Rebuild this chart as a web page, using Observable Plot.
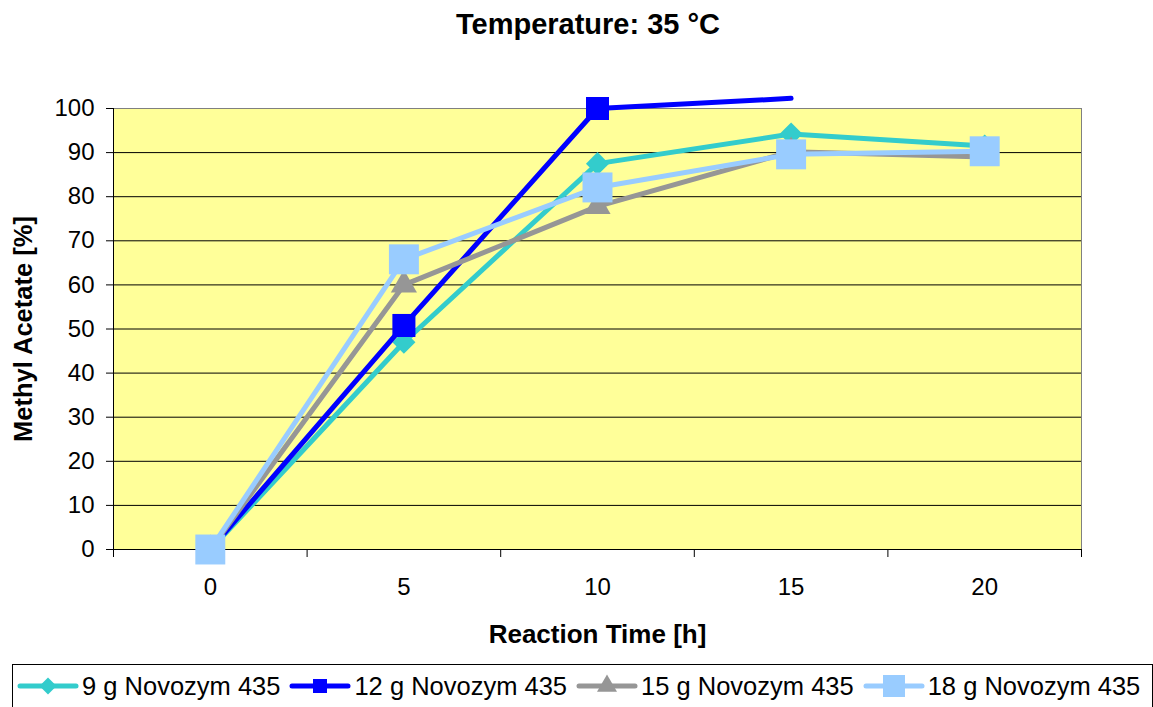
<!DOCTYPE html>
<html><head><meta charset="utf-8">
<script src="https://cdn.jsdelivr.net/npm/d3@7"></script>
<script src="https://cdn.jsdelivr.net/npm/@observablehq/plot@0.6"></script>
<style>
body{margin:0;background:#fff;font-family:"Liberation Sans",Arial,sans-serif;}
#wrap{position:relative;width:1153px;height:707px;overflow:hidden;}
#title{position:absolute;left:23px;top:0;width:1130px;height:48px;line-height:48px;text-align:center;font-weight:bold;font-size:29px;}
#chart{position:absolute;left:0;top:48px;}
#legend{position:absolute;left:12px;top:664px;width:1141px;height:60px;border:1px solid #000;box-sizing:border-box;display:flex;align-items:flex-start;padding-left:4px;padding-top:6px;gap:9px;}
#legend .item{display:flex;align-items:center;height:30px;}
#legend span{font-size:25.5px;margin-left:3px;white-space:nowrap;}
</style></head>
<body><div id="wrap"><div id="title">Temperature: 35 °C</div><div id="chart"></div><div id="legend"></div></div>
<script>
const times = [0, 5, 10, 15, 20];
const seriesNames = ["9 g Novozym 435", "12 g Novozym 435", "15 g Novozym 435", "18 g Novozym 435"];
const values9 = [0, 47, 87.5, 94.2, 91.5];
const values12 = [0, 50.8, 100, 102.3];
const values15 = [0, 60, 77.8, 90.2, 89];
const values18 = [0, 65.8, 82.1, 89.6, 90.3];
const yTicks = [0, 10, 20, 30, 40, 50, 60, 70, 80, 90, 100];
const xLabel = "Reaction Time [h]";
const yLabel = "Methyl Acetate [%]";

const colors = ["#33CCCC", "#0000FF", "#969696", "#99CCFF"];
const symbols = ["diamond2", "square", "triangle", "square"];
const markerR = [10.4, 13, 9.7, 16.9];
const legendSize = [184, 196, 173, 484];
const legendSym = [d3.symbolDiamond2, d3.symbolSquare, d3.symbolTriangle, d3.symbolSquare];

const allValues = [values9, values12, values15, values18];
const series = seriesNames.map((name, i) => ({
  name, color: colors[i], symbol: symbols[i], r: markerR[i],
  rows: allValues[i].map((v, j) => ({x: times[j], y: v}))
}));

const step = times[1] - times[0];
const xDomain = [times[0] - step / 2, times[times.length - 1] + step / 2];
const bounds = times.map(t => t - step / 2).concat([xDomain[1]]);
const yMax = yTicks[yTicks.length - 1];

const marks = [
  Plot.frame({fill: "#FFFF99", stroke: "#808080"}),
  Plot.gridY({ticks: yTicks.filter(t => t > 0 && t < yMax), stroke: "#000", strokeOpacity: 1, strokeWidth: 1}),
  Plot.ruleX([xDomain[0]], {stroke: "#000"}),
  Plot.ruleY([0], {stroke: "#000"}),
  Plot.axisY({ticks: yTicks, tickSize: 7, tickPadding: 12, stroke: "#000", fill: "#000", fontSize: 24, label: null, tickFormat: d => String(d)}),
  Plot.axisX({ticks: times, tickSize: 0, tickPadding: 28, fill: "#000", fontSize: 24, label: null, tickFormat: d => String(d)}),
  Plot.axisX({ticks: bounds, tickSize: 8, stroke: "#000", tickFormat: () => "", label: null}),
  Plot.text([xLabel], {frameAnchor: "bottom", dy: 85, lineAnchor: "middle", textAnchor: "middle", fontWeight: "bold", fontSize: 26, fill: "#000"}),
  Plot.text([yLabel], {frameAnchor: "left", rotate: -90, dx: -90, lineAnchor: "middle", textAnchor: "middle", fontWeight: "bold", fontSize: 25.5, fill: "#000"})
];
for (const s of series) {
  marks.push(Plot.line(s.rows, {x: "x", y: "y", stroke: s.color, strokeWidth: 5, strokeLinejoin: "round", strokeLinecap: "round"}));
  marks.push(Plot.dot(s.rows.filter(d => d.y <= yMax), {x: "x", y: "y", symbol: s.symbol, r: s.r, fill: s.color, stroke: "none"}));
}

const chart = Plot.plot({
  width: 1153, height: 610,
  marginLeft: 113, marginRight: 72, marginTop: 60, marginBottom: 109,
  x: {type: "linear", domain: xDomain, axis: null},
  y: {type: "linear", domain: [0, yMax], axis: null},
  style: {fontFamily: "'Liberation Sans', Arial, sans-serif", fontSize: "24px", color: "#000", background: "transparent", overflow: "visible"},
  marks
});
document.getElementById("chart").appendChild(chart);

const legend = d3.select("#legend");
series.forEach((s, i) => {
  const item = legend.append("div").attr("class", "item");
  const svg = item.append("svg").attr("width", 62).attr("height", 30);
  svg.append("line").attr("x1", 3).attr("x2", 59).attr("y1", 15).attr("y2", 15)
    .attr("stroke", s.color).attr("stroke-width", 5).attr("stroke-linecap", "round");
  svg.append("path").attr("transform", "translate(31,15)")
    .attr("d", d3.symbol(legendSym[i], legendSize[i])()).attr("fill", s.color);
  item.append("span").text(s.name);
});
</script>
</body></html>
